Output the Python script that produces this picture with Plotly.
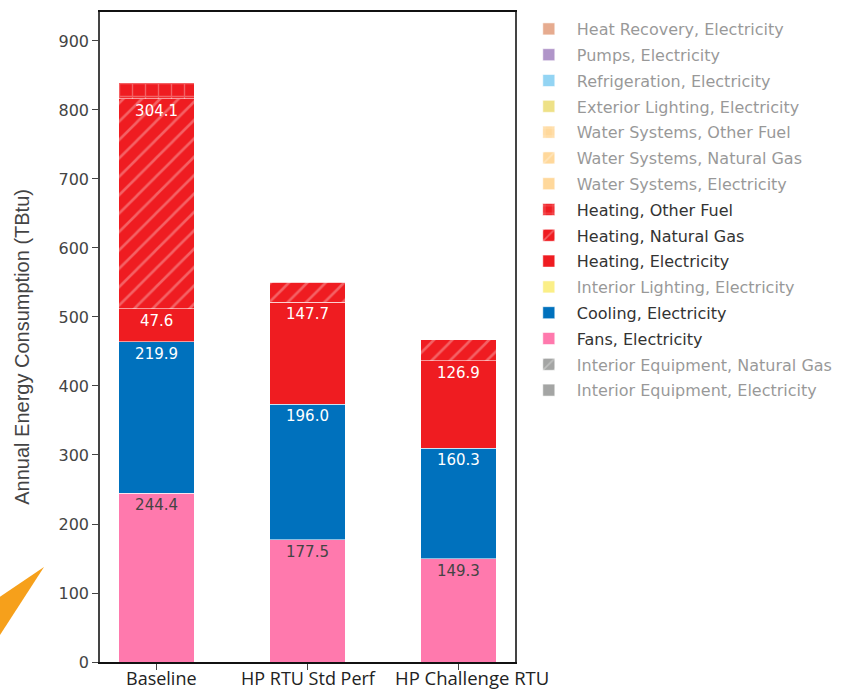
import plotly.graph_objects as go

# Scenarios on the x axis
scenarios = ["Baseline", "HP RTU Std Perf", "HP Challenge RTU"]

# Annual energy consumption by end use and fuel (TBtu)
fans_elec = [244.4, 177.5, 149.3]
cooling_elec = [219.9, 196.0, 160.3]
heating_elec = [47.6, 147.7, 126.9]
heating_gas = [304.1, 29.0, 30.4]
heating_other = [23.2, 0.0, 0.0]

# End uses present in the legend but switched off in the view
hidden_zero = [0.0, 0.0, 0.0]

# (name, values, colour, hatch, shown) -- listed bottom of the stack first
series = [
    ("Interior Equipment, Electricity", hidden_zero, "#4A4D4A", "", False),
    ("Interior Equipment, Natural Gas", hidden_zero, "#4A4D4A", "/", False),
    ("Fans, Electricity", fans_elec, "#FF79AD", "", True),
    ("Cooling, Electricity", cooling_elec, "#0071BD", "", True),
    ("Interior Lighting, Electricity", hidden_zero, "#F7DF10", "", False),
    ("Heating, Electricity", heating_elec, "#EF1C21", "", True),
    ("Heating, Natural Gas", heating_gas, "#EF1C21", "/", True),
    ("Heating, Other Fuel", heating_other, "#EF1C21", "+", True),
    ("Water Systems, Electricity", hidden_zero, "#FFB239", "", False),
    ("Water Systems, Natural Gas", hidden_zero, "#FFB239", "/", False),
    ("Water Systems, Other Fuel", hidden_zero, "#FFB239", "+", False),
    ("Exterior Lighting, Electricity", hidden_zero, "#DEC310", "", False),
    ("Refrigeration, Electricity", hidden_zero, "#29AAE7", "", False),
    ("Pumps, Electricity", hidden_zero, "#632C94", "", False),
    ("Heat Recovery, Electricity", hidden_zero, "#CE5921", "", False),
]

# Segments too thin to carry a label stay unlabeled
LABEL_MIN = 40.0

fig = go.Figure()
n = len(series)
for i, (name, vals, color, hatch, shown) in enumerate(series):
    labels = [f"{v:.1f}" if v >= LABEL_MIN else "" for v in vals]
    fig.add_trace(go.Bar(
        name=name,
        legendgroup=name,
        legendrank=1000 + (n - i),   # top of the stack listed first
        x=scenarios,
        y=vals,
        text=labels,
        textposition="inside",
        insidetextanchor="end",
        textangle=0,
        textfont=dict(family="DejaVu Sans", size=15),
        marker=dict(
            color=color,
            line=dict(color="rgba(255,255,255,0.55)", width=1),
            pattern=dict(shape=hatch, fgcolor="rgba(255,255,255,0.6)",
                         size=13, solidity=0.2),
        ),
        visible=True if shown else "legendonly",
    ))

fig.update_layout(
    width=842,
    height=691,
    barmode="stack",
    bargap=0.5,
    plot_bgcolor="white",
    paper_bgcolor="white",
    margin=dict(l=100, r=327, t=12, b=29, autoexpand=False),
    font=dict(family="DejaVu Sans", size=16, color="#444"),
    showlegend=True,
    legend=dict(
        x=1.014, xanchor="left", y=1.0, yanchor="top",
        traceorder="grouped",
        tracegroupgap=2,
        itemwidth=46,
        font=dict(family="DejaVu Sans", size=16, color="#333"),
        bgcolor="rgba(0,0,0,0)",
    ),
)

fig.update_yaxes(
    range=[0, 942],
    tickvals=[0, 100, 200, 300, 400, 500, 600, 700, 800, 900],
    ticks="outside", ticklen=6, tickcolor="#444",
    tickfont=dict(family="DejaVu Sans", size=16, color="#444"),
    showgrid=False, zeroline=False,
    showline=True, linecolor="#444", linewidth=1.5, mirror=True,
)

fig.update_xaxes(
    range=[-0.375, 2.375],
    showticklabels=False,
    ticks="outside", ticklen=6, tickcolor="#444",
    showgrid=False,
    showline=True, linecolor="#111", linewidth=2, mirror=True,
)

# Y axis title, set a little below the plot's mid-height
fig.add_annotation(
    text="Annual Energy Consumption (TBtu)",
    x=0, xref="paper", xanchor="center", xshift=-78,
    y=0.485, yref="paper", yanchor="middle",
    textangle=-90, showarrow=False,
    font=dict(family="Liberation Sans", size=20, color="#444"),
)

# Scenario names under the axis
label_style = [(18, 5, -2), (18, 1, -2), (18.5, 14, -1)]
for cat, (size, dx, dy) in zip(scenarios, label_style):
    fig.add_annotation(
        x=cat, xref="x", y=0, yref="paper",
        text=cat, showarrow=False,
        xanchor="center", yanchor="top",
        xshift=dx, yshift=dy,
        font=dict(family="Open Sans", size=size, color="#222"),
    )

# Orange pointer in the lower-left corner
def to_paper(px, py):
    return (px - 100) / 415, (662 - py) / 650

pts = [to_paper(-2, 598), to_paper(44, 567), to_paper(-2, 638)]
path = "M {} {} L {} {} L {} {} Z".format(*[c for p in pts for c in p])
fig.add_shape(type="path", path=path, xref="paper", yref="paper",
              fillcolor="#F6A01B", line=dict(width=0), layer="above")

fig.write_html("out.html")
